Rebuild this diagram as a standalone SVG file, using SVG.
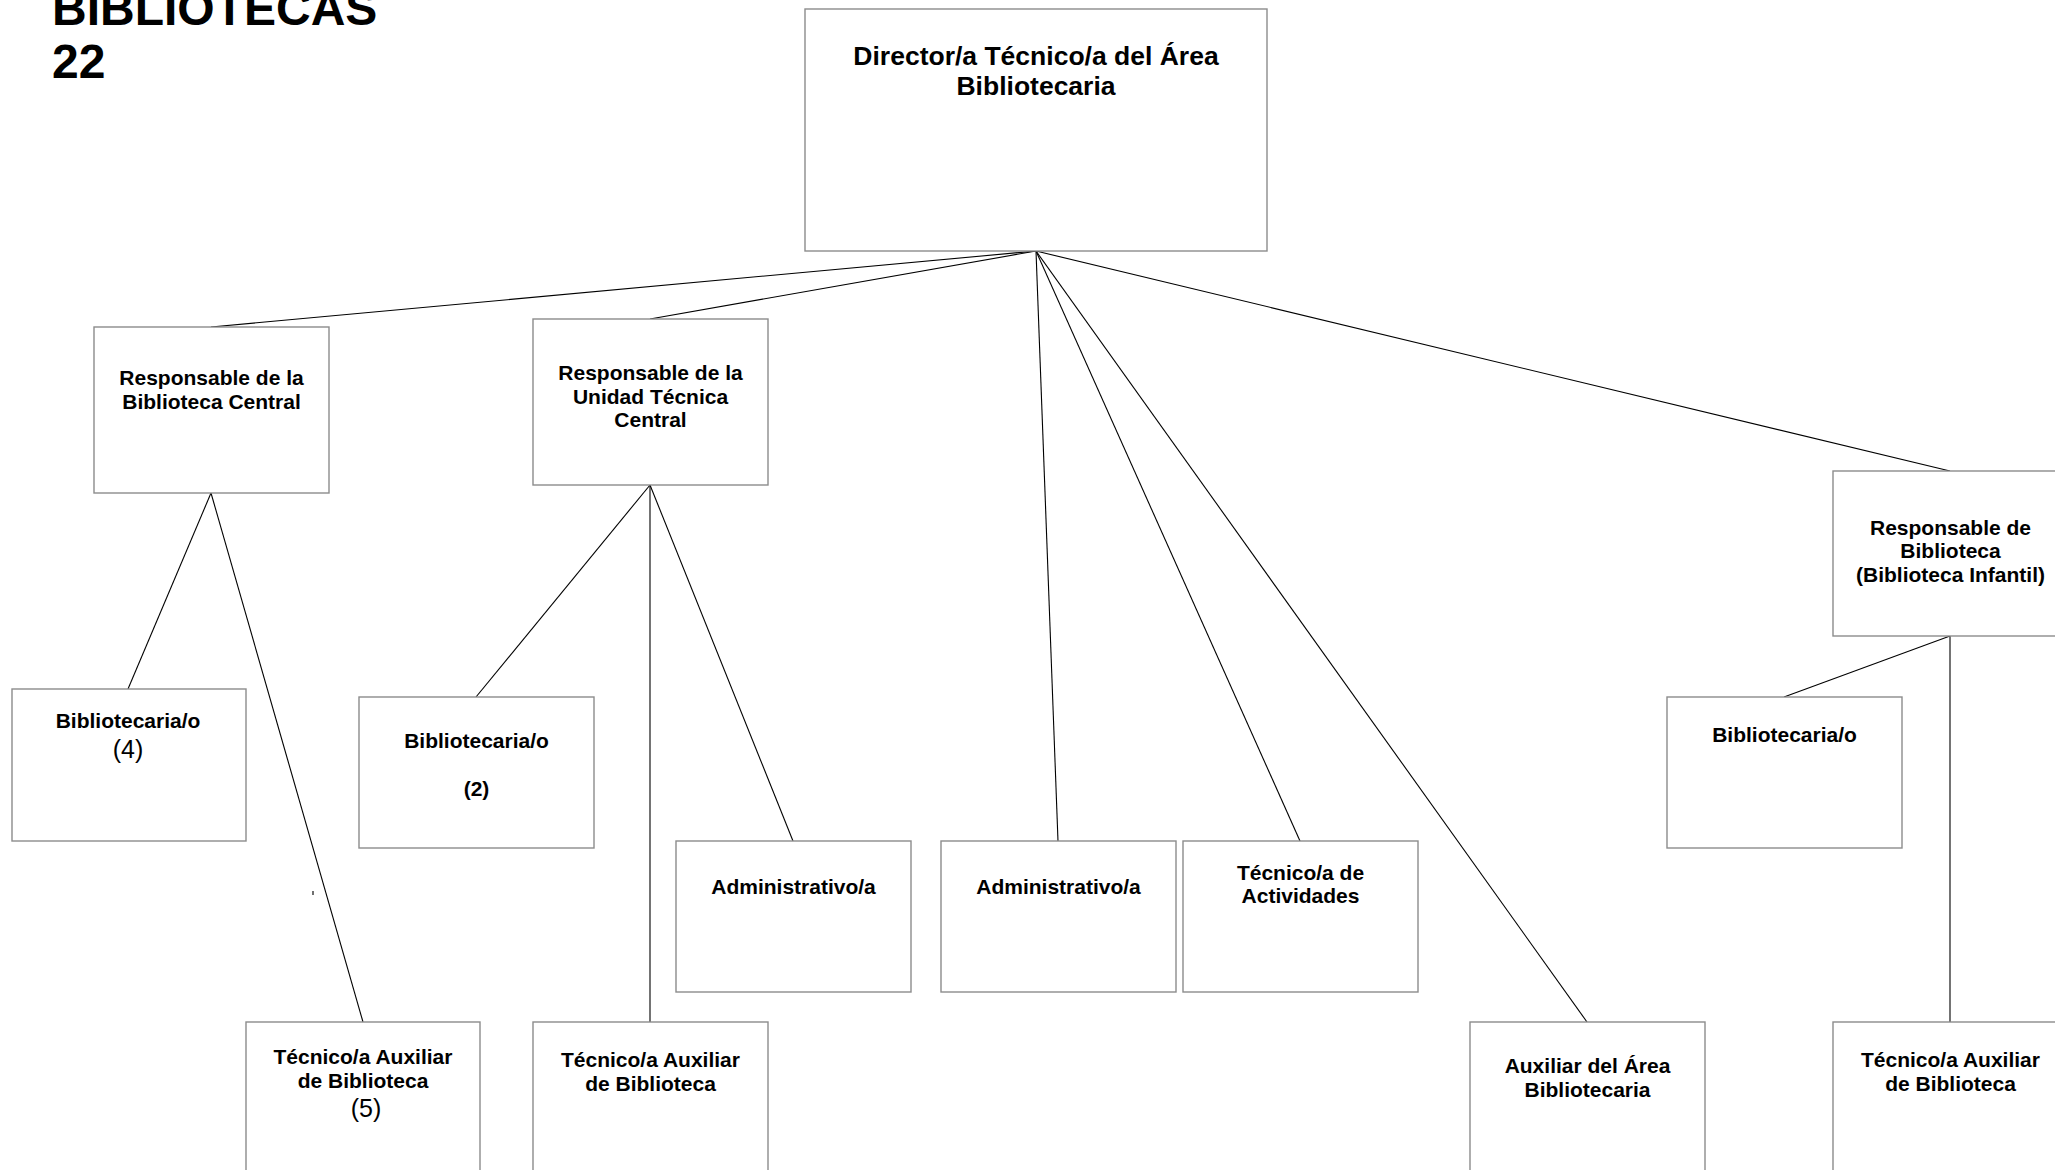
<svg xmlns="http://www.w3.org/2000/svg" width="2055" height="1170" viewBox="0 0 2055 1170">
<style>
.box{fill:#fff;stroke:#8c8c8c;stroke-width:1.4}
.t{font-family:"Liberation Sans",Arial,sans-serif;font-weight:bold;font-size:21px;fill:#000;text-anchor:middle}
.r{font-family:"Liberation Sans",Arial,sans-serif;font-weight:normal;font-size:25px;fill:#000;text-anchor:middle}
.title{font-family:"Liberation Sans",Arial,sans-serif;font-weight:bold;font-size:48px;fill:#000}
.c{stroke:#000;stroke-width:1.1;fill:none}
</style>
<rect width="2055" height="1170" fill="#fff"/>
<g id="title">
<text class="title" x="52" y="25">BIBLIOTECAS</text>
<text class="title" x="52" y="78">22</text>
</g>
<g id="connectors">
<line class="c" x1="1036" y1="251" x2="211" y2="327"/>
<line class="c" x1="1036" y1="251" x2="650" y2="319"/>
<line class="c" x1="1036" y1="251" x2="1058" y2="841"/>
<line class="c" x1="1036" y1="251" x2="1300" y2="841"/>
<line class="c" x1="1036" y1="251" x2="1587" y2="1022"/>
<line class="c" x1="1036" y1="251" x2="1950" y2="471"/>
<line class="c" x1="211" y1="493" x2="128" y2="689"/>
<line class="c" x1="211" y1="493" x2="363" y2="1022"/>
<line class="c" x1="650" y1="485" x2="476" y2="697"/>
<line class="c" x1="650" y1="485" x2="650" y2="1022"/>
<line class="c" x1="650" y1="485" x2="793" y2="841"/>
<line class="c" x1="1950" y1="636" x2="1784" y2="697"/>
<line class="c" x1="1950" y1="636" x2="1950" y2="1022"/>
<line x1="313" y1="891" x2="313" y2="895" stroke="#333" stroke-width="1.4"/>
</g>
<g id="director">
<rect class="box" x="805" y="9" width="462" height="242"/>
<text class="t" style="font-size:26.5px" x="1036" y="65">Director/a Técnico/a del Área</text>
<text class="t" style="font-size:26.5px" x="1036" y="95">Bibliotecaria</text>
</g>
<g id="resp-biblioteca-central">
<rect class="box" x="94" y="327" width="235" height="166"/>
<text class="t" x="211.5" y="385">Responsable de la</text>
<text class="t" x="211.5" y="409">Biblioteca Central</text>
</g>
<g id="resp-unidad-tecnica">
<rect class="box" x="533" y="319" width="235" height="166"/>
<text class="t" x="650.5" y="380">Responsable de la</text>
<text class="t" x="650.5" y="404">Unidad Técnica</text>
<text class="t" x="650.5" y="427">Central</text>
</g>
<g id="resp-biblioteca-infantil">
<rect class="box" x="1833" y="471" width="235" height="165"/>
<text class="t" x="1950.5" y="535">Responsable de</text>
<text class="t" x="1950.5" y="558">Biblioteca</text>
<text class="t" x="1950.5" y="582">(Biblioteca Infantil)</text>
</g>
<g id="bibliotecario-4">
<rect class="box" x="12" y="689" width="234" height="152"/>
<text class="t" x="128" y="728">Bibliotecaria/o</text>
<text class="r" x="128" y="758">(4)</text>
</g>
<g id="tecnico-auxiliar-5">
<rect class="box" x="246" y="1022" width="234" height="160"/>
<text class="t" x="363" y="1064">Técnico/a Auxiliar</text>
<text class="t" x="363" y="1088">de Biblioteca</text>
<text class="r" x="366" y="1117">(5)</text>
</g>
<g id="bibliotecario-2">
<rect class="box" x="359" y="697" width="235" height="151"/>
<text class="t" x="476.5" y="748">Bibliotecaria/o</text>
<text class="t" x="476.5" y="796">(2)</text>
</g>
<g id="tecnico-auxiliar-utc">
<rect class="box" x="533" y="1022" width="235" height="160"/>
<text class="t" x="650.5" y="1067">Técnico/a Auxiliar</text>
<text class="t" x="650.5" y="1091">de Biblioteca</text>
</g>
<g id="administrativo-1">
<rect class="box" x="676" y="841" width="235" height="151"/>
<text class="t" x="793.5" y="894">Administrativo/a</text>
</g>
<g id="administrativo-2">
<rect class="box" x="941" y="841" width="235" height="151"/>
<text class="t" x="1058.5" y="894">Administrativo/a</text>
</g>
<g id="tecnico-actividades">
<rect class="box" x="1183" y="841" width="235" height="151"/>
<text class="t" x="1300.5" y="880">Técnico/a de</text>
<text class="t" x="1300.5" y="903">Actividades</text>
</g>
<g id="auxiliar-area">
<rect class="box" x="1470" y="1022" width="235" height="160"/>
<text class="t" x="1587.5" y="1073">Auxiliar del Área</text>
<text class="t" x="1587.5" y="1097">Bibliotecaria</text>
</g>
<g id="bibliotecario-infantil">
<rect class="box" x="1667" y="697" width="235" height="151"/>
<text class="t" x="1784.5" y="742">Bibliotecaria/o</text>
</g>
<g id="tecnico-auxiliar-infantil">
<rect class="box" x="1833" y="1022" width="235" height="160"/>
<text class="t" x="1950.5" y="1067">Técnico/a Auxiliar</text>
<text class="t" x="1950.5" y="1091">de Biblioteca</text>
</g>
</svg>
